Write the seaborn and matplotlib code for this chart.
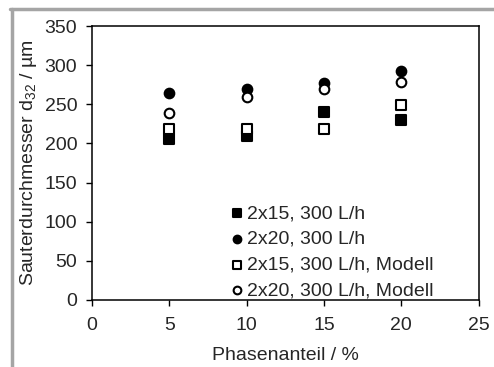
import pandas as pd
import matplotlib
matplotlib.use('Agg')
import matplotlib.pyplot as plt
import seaborn as sns
from matplotlib.lines import Line2D

# Phasenanteil values and Sauter diameters
phase = [5, 10, 15, 20]
d32_2x15 = [205, 210, 240, 230]
d32_2x20 = [265, 270, 277, 293]
d32_2x15_model = [219, 219, 219, 249]
d32_2x20_model = [239, 259, 269, 278]
series_names = ['2x15, 300 L/h', '2x20, 300 L/h', '2x15, 300 L/h, Modell', '2x20, 300 L/h, Modell']

sns.set_style('ticks')
plt.rcParams['font.family'] = ['Liberation Sans', 'DejaVu Sans']
plt.rcParams['mathtext.default'] = 'regular'
FS = 14

fig = plt.figure(figsize=(4.94, 3.67), dpi=100)
ax = fig.add_axes([0.186, 0.183, 0.783, 0.746])

#Build one long table for seaborn
df = pd.concat([
    pd.DataFrame({'phase': phase, 'd32': vals, 'series': name})
    for name, vals in zip(series_names, [d32_2x15, d32_2x20, d32_2x15_model, d32_2x20_model])
])

styles = {
    series_names[0]: dict(marker='s', facecolor='black'),
    series_names[1]: dict(marker='o', facecolor='black'),
    series_names[2]: dict(marker='s', facecolor='white'),
    series_names[3]: dict(marker='o', facecolor='white'),
}
for name in series_names:
    st = styles[name]
    sub = df[df['series'] == name]
    sns.scatterplot(data=sub, x='phase', y='d32', ax=ax, marker=st['marker'], s=48,
                    color=st['facecolor'], edgecolor='black', linewidth=1.5, label=name, zorder=3)

ax.set_xlim(0, 25)
ax.set_ylim(0, 350)
ax.set_xticks(range(0, 26, 5))
ax.set_yticks(range(0, 351, 50))
ax.set_xlabel('Phasenanteil / %', fontsize=FS, labelpad=9)
ax.set_ylabel('Sauterdurchmesser d$_{32}$ / µm', fontsize=FS, labelpad=4)
ax.tick_params(axis='both', direction='out', length=4.5, width=1, labelsize=FS, color='black')
ax.tick_params(axis='x', pad=8)
ax.tick_params(axis='y', pad=6)
for sp in ax.spines.values():
    sp.set_linewidth(1.1)
    sp.set_color('black')

leg = ax.legend(loc='lower left', bbox_to_anchor=(0.343, -0.027), frameon=False, fontsize=FS,
                handlelength=0.5, handletextpad=0.25, labelspacing=0.42, borderaxespad=0,
                markerscale=0.8)

#Gray frame on left and top edge of the figure
fig.add_artist(Line2D([11.5 / 494, 11.5 / 494], [0, 1 - 9 / 367], color='#a5a5a5', lw=2.5, transform=fig.transFigure))
fig.add_artist(Line2D([10 / 494, 1], [1 - 9 / 367, 1 - 9 / 367], color='#a5a5a5', lw=2.5, transform=fig.transFigure))

fig.savefig('out.png', dpi=100)
